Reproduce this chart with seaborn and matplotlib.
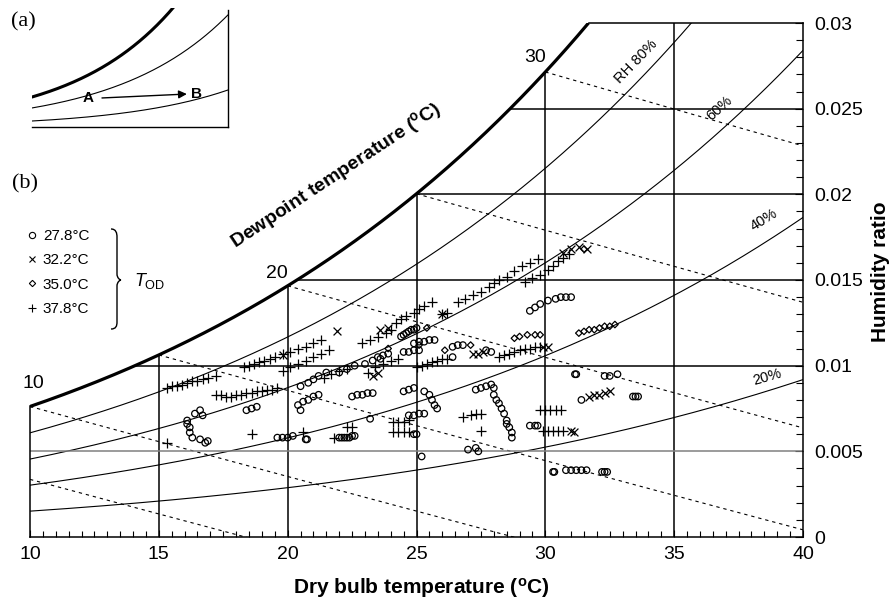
import numpy as np
import pandas as pd
import matplotlib
matplotlib.use("Agg")
import matplotlib.pyplot as plt
import seaborn as sns
from matplotlib.ticker import MultipleLocator
from matplotlib.lines import Line2D
from matplotlib.path import Path
from matplotlib.patches import PathPatch

sns.set_theme(style="white", rc={"axes.edgecolor": "black", "text.color": "black",
                                 "xtick.color": "black", "ytick.color": "black",
                                 "axes.labelcolor": "black"})
plt.rcParams["font.family"] = ["Liberation Sans", "DejaVu Sans"]
plt.rcParams["mathtext.fontset"] = "custom"
plt.rcParams["mathtext.rm"] = "Liberation Sans"
plt.rcParams["mathtext.it"] = "Liberation Sans:italic"
plt.rcParams["mathtext.bf"] = "Liberation Sans:bold"

# ---------------- data ----------------
series_labels = ["27.8°C", "32.2°C", "35.0°C", "37.8°C"]

t278 = [16.6, 16.7, 16.1, 16.2, 16.2, 16.3, 16.6, 16.8, 16.4, 16.1, 16.9,
        18.4, 18.6, 18.8,
        19.6, 19.8, 20.0, 20.2,
        20.7, 20.75,
        20.4, 20.6, 20.8, 21.0, 21.2, 20.5,
        22.0, 22.1, 22.2, 22.3, 22.4, 22.5, 22.6,
        23.2,
        22.5, 22.7, 22.9, 23.1, 23.3,
        20.5, 20.8, 21.0, 21.2, 21.5, 22.0, 22.3, 22.6, 23.0, 23.3, 23.6,
        24.4, 24.5, 24.6, 24.7, 24.8, 24.9, 25.0,
        24.9, 25.1, 25.3, 25.5, 25.7,
        24.5, 24.7, 24.9, 25.1, 23.5, 23.7, 23.9,
        26.4, 26.6, 26.8, 27.7, 27.9, 26.4,
        27.3, 27.5, 27.7, 27.9, 28.0,
        28.0, 28.1, 28.2, 28.3, 28.4, 28.5, 28.5, 28.6, 28.7, 28.7,
        25.3, 25.5, 25.6, 25.7, 25.8,
        24.7, 24.9, 25.1, 25.3, 24.9, 25.0,
        24.5, 24.7, 24.9,
        29.4, 29.6, 29.7,
        29.4, 29.6, 29.8, 30.1, 30.4, 30.6, 30.8, 31.0,
        31.15, 31.2, 32.3, 32.5, 32.8, 31.4, 33.4, 33.5, 33.6,
        25.2, 27.0, 27.3, 27.4,
        30.3, 30.35, 30.8, 31.0, 31.2, 31.4, 31.6, 32.2, 32.3, 32.4]
w278 = [.0074, .0071, .0068, .0064, .0061, .0058, .0057, .0055, .0072, .0066, .0056,
        .0074, .0075, .0076,
        .0058, .0058, .0058, .0059,
        .0057, .0057,
        .0077, .0079, .0080, .0082, .0083, .0074,
        .0058, .0058, .0058, .0058, .0058, .0059, .0059,
        .0069,
        .0082, .0083, .0083, .0084, .0084,
        .0088, .0090, .0092, .0094, .0096, .0096, .0098, .0100, .0101, .0103, .0104,
        .0117, .0118, .0119, .0120, .0121, .0121, .0122,
        .0113, .0114, .0114, .0115, .0115,
        .0108, .0108, .0109, .0109, .0105, .0106, .0107,
        .0111, .0112, .0112, .0109, .0108, .0105,
        .0086, .0087, .0088, .0089, .0087,
        .0083, .0080, .0078, .0075, .0072, .0068, .0066, .0064, .0061, .0058,
        .0085, .0083, .0080, .0077, .0075,
        .0071, .0071, .0072, .0072, .0060, .0060,
        .0085, .0086, .0087,
        .0065, .0065, .0065,
        .0132, .0134, .0136, .0138, .0139, .0140, .0140, .0140,
        .0095, .0095, .0094, .0094, .0095, .0080, .0082, .0082, .0082,
        .0047, .0051, .0052, .0050,
        .0038, .0038, .0039, .0039, .0039, .0039, .0039, .0038, .0038, .0038]

t322 = [21.9, 27.2, 27.4, 27.6, 31.7, 31.9, 32.1, 32.3, 32.5, 31.0, 31.1,
        30.7, 31.0, 31.3, 31.6, 23.3, 23.5, 23.6, 23.9, 19.8, 26.0, 29.9, 30.1]
w322 = [.0120, .0107, .0107, .0108, .0082, .0083, .0083, .0084, .0085, .0062, .0061,
        .0166, .0168, .0169, .0168, .0094, .0096, .0121, .0122, .0106, .0130, .0111, .0111]

t350 = [25.4, 26.1, 27.1, 28.8, 29.0, 29.3, 29.6, 29.8,
        31.3, 31.5, 31.7, 31.9, 32.1, 32.3, 32.5, 32.7, 31.5, 25.1, 23.9]
w350 = [.0122, .0109, .0112, .0116, .0117, .0118, .0118, .0118,
        .0119, .0120, .0121, .0121, .0122, .0123, .0123, .0124, .0168, .0112, .0110]

t378 = [15.3, 15.5, 15.7, 15.9, 16.1, 16.3, 16.5, 16.7, 16.9, 17.2,
        17.2, 17.4, 17.6, 17.8, 18.0, 18.2, 18.4, 18.6, 18.8, 19.0, 19.2, 19.4, 19.6,
        18.3, 18.5, 18.7, 18.9, 19.1, 19.3, 19.5, 19.8, 20.1, 20.4, 20.7, 21.0, 21.3,
        19.8, 20.1, 20.4, 20.7, 21.0, 21.3, 21.6,
        22.9, 23.2, 23.5, 23.8, 24.0,
        24.2, 24.4, 24.6, 24.9, 25.1, 25.3, 25.6, 26.0, 26.2,
        26.6, 26.9, 27.2, 27.5, 27.8, 28.0,
        28.2, 28.5, 28.8, 29.1, 29.4, 29.7, 29.2, 29.5, 29.8,
        30.1, 30.3, 30.5, 30.7, 30.9,
        15.3, 18.6, 20.6, 21.8, 22.3, 22.5,
        24.1, 24.3, 24.5, 24.7, 24.1, 24.3, 24.5, 24.7,
        26.8, 27.1, 27.3, 27.5, 27.5,
        29.8, 30.0, 30.2, 30.4, 30.6, 29.9, 30.1, 30.3, 30.5, 30.7,
        28.2, 28.4, 28.6, 28.8, 29.0, 29.2, 29.4, 29.6, 29.8,
        25.0, 25.2, 25.4, 25.6, 25.8, 26.0, 26.2,
        21.4, 21.7, 22.0, 22.3, 23.1, 23.4, 23.7, 24.0, 24.3]
w378 = [.0087, .0088, .0088, .0089, .0090, .0091, .0091, .0092, .0093, .0094,
        .0083, .0083, .0082, .0082, .0083, .0083, .0084, .0084, .0085, .0085, .0086, .0086, .0087,
        .0099, .0100, .0101, .0102, .0103, .0104, .0105, .0107, .0108, .0110, .0111, .0113, .0115,
        .0097, .0099, .0101, .0103, .0105, .0107, .0109,
        .0113, .0115, .0117, .0119, .0121,
        .0125, .0127, .0129, .0131, .0133, .0135, .0137, .0130, .0131,
        .0137, .0139, .0141, .0143, .0146, .0148,
        .0150, .0152, .0155, .0158, .0160, .0162, .0149, .0151, .0153,
        .0156, .0158, .0161, .0163, .0165,
        .0055, .0060, .0061, .0058, .0064, .0064,
        .0067, .0067, .0067, .0068, .0061, .0061, .0061, .0061,
        .0070, .0071, .0072, .0072, .0062,
        .0074, .0074, .0074, .0074, .0074, .0062, .0062, .0062, .0062, .0062,
        .0105, .0106, .0107, .0108, .0109, .0110, .0110, .0111, .0111,
        .0099, .0100, .0101, .0102, .0103, .0104, .0104,
        .0093, .0095, .0097, .0098, .0096, .0099, .0101, .0103, .0104]

rh_levels = [0.2, 0.4, 0.6, 0.8]
wetbulb_levels = [5, 10, 15, 20, 25, 30]
x_ticks = [10, 15, 20, 25, 30, 35, 40]
y_ticks = [0, 0.005, 0.01, 0.015, 0.02, 0.025, 0.03]
y_ticklabels = ["0", "0.005", "0.01", "0.015", "0.02", "0.025", "0.03"]

# ---------------- psychrometrics ----------------
P = 101.325
def pws(T):
    return 0.61094 * np.exp(17.625 * T / (T + 243.04))
def wsat(T, rh=1.0):
    p = rh * pws(T)
    return 0.62198 * p / (P - p)
def tsat(W):
    Ts = np.linspace(0, 50, 5001)
    return float(np.interp(W, wsat(Ts), Ts))
def wwb(T, Twb):
    return ((2501 - 2.326 * Twb) * wsat(Twb) - 1.006 * (T - Twb)) / (2501 + 1.86 * T - 4.186 * Twb)

W, H = 893, 600
fig = plt.figure(figsize=(W / 100, H / 100), dpi=100)
ax = fig.add_axes([30 / W, 63 / H, 773 / W, 514 / H])
ax.set_facecolor("none")
ax.set_xlim(10, 40)
ax.set_ylim(0, 0.03)

for s in ["left", "right", "top", "bottom"]:
    ax.spines[s].set_linewidth(1.1)
    ax.spines[s].set_color("black")
ax.spines["left"].set_bounds(0, wsat(10))
ax.spines["top"].set_bounds(tsat(0.03), 40)

lw_grid = 1.1
Tc = np.linspace(10, 40, 400)
Tsc = np.linspace(10, tsat(0.03), 300)
ax.plot(Tsc, wsat(Tsc), color="black", lw=2.3, solid_capstyle="butt", zorder=3)
for rh in rh_levels:
    ax.plot(Tc, wsat(Tc, rh), color="black", lw=0.8, zorder=2)
for twb in wetbulb_levels:
    Tw = np.linspace(max(twb, 10), 40, 300)
    ax.plot(Tw, wwb(Tw, twb), color="black", lw=0.8, ls=(0, (3, 3.5)), zorder=2)
for t in [15, 20, 25, 30, 35]:
    ax.plot([t, t], [0, min(wsat(t), 0.03)], color="black", lw=lw_grid, zorder=2)
for w in [0.01, 0.015, 0.02, 0.025]:
    ax.plot([tsat(w), 40], [w, w], color="black", lw=lw_grid, zorder=2)
ax.plot([10, 40], [0.005, 0.005], color="#808080", lw=lw_grid, zorder=2)

# ---------------- data points ----------------
def scat(t, w, marker, s, open_face, lw=0.9):
    df = pd.DataFrame({"T": t, "W": w})
    sns.scatterplot(data=df, x="T", y="W", ax=ax, marker=marker, s=s, color="black",
                    edgecolor="black", linewidth=lw, legend=False, zorder=5)
    if open_face:
        coll = ax.collections[-1]
        coll.set_facecolor("none")
        coll.set_edgecolor("black")

scat(t278, w278, "o", 22, True)
scat(t322, w322, "x", 32, False)
scat(t350, w350, "D", 11, True)
scat(t378, w378, "+", 45, False)

ax.set_xlabel("")
ax.set_ylabel("")

ax.set_xticks(x_ticks)
ax.set_xticklabels([str(v) for v in x_ticks])
ax.xaxis.set_minor_locator(MultipleLocator(0.5))
ax.yaxis.tick_right()
ax.set_yticks(y_ticks)
ax.set_yticklabels(y_ticklabels)
ax.yaxis.set_minor_locator(MultipleLocator(0.001))
ax.tick_params(axis="x", which="both", direction="in", bottom=True, top=False,
               labelsize=14, pad=6.5, width=0.8)
ax.tick_params(axis="x", which="major", length=5)
ax.tick_params(axis="x", which="minor", length=4)
ax.tick_params(axis="y", which="both", direction="in", left=False, right=True,
               labelleft=False, labelright=True, labelsize=14, pad=8, width=0.8)
ax.tick_params(axis="y", which="major", length=6)
ax.tick_params(axis="y", which="minor", length=5)

ax.text(33.52, 0.02772, "RH 80%", fontsize=10.5, rotation=46, ha="center", va="center",
        rotation_mode="anchor", zorder=6)
ax.text(36.75, 0.02500, "60%", fontsize=10.5, rotation=42, ha="center", va="center",
        rotation_mode="anchor", zorder=6)
ax.text(38.5, 0.01850, "40%", fontsize=10.5, rotation=32, ha="center", va="center",
        rotation_mode="anchor", zorder=6)
ax.text(38.6, 0.00935, "20%", fontsize=10.5, rotation=16, ha="center", va="center",
        rotation_mode="anchor", zorder=6)

# ---------------- overlay in pixel coordinates ----------------
ov = fig.add_axes([0, 0, 1, 1], zorder=10)
ov.set_xlim(0, W)
ov.set_ylim(H, 0)
ov.axis("off")
ov.patch.set_alpha(0)

ov.text(421, 588, "Dry bulb temperature ($^{\\mathbf{o}}$C)", fontsize=15, fontweight="bold",
        ha="center", va="center")
ov.text(880, 272, "Humidity ratio", fontsize=15, fontweight="bold", rotation=90,
        ha="center", va="center")
ov.text(336, 175, "Dewpoint temperature ($^{\\mathbf{o}}$C)", fontsize=14, fontweight="bold",
        rotation=33.5, ha="center", va="center", rotation_mode="anchor")
ov.text(33, 384, "10", fontsize=14, ha="center", va="center")
ov.text(277, 273, "20", fontsize=14, ha="center", va="center")
ov.text(535, 57, "30", fontsize=14, ha="center", va="center")
ov.text(23, 22, "(a)", fontsize=16, family="Liberation Serif", ha="center", va="center")
ov.text(25, 184, "(b)", fontsize=16, family="Liberation Serif", ha="center", va="center")

handles = [Line2D([], [], ls="", marker="o", ms=4.5, mfc="none", mec="black", mew=0.8),
           Line2D([], [], ls="", marker="x", ms=5, color="black", mew=0.8),
           Line2D([], [], ls="", marker="D", ms=3.2, mfc="none", mec="black", mew=0.8),
           Line2D([], [], ls="", marker="+", ms=5.5, color="black", mew=0.8)]
fig.legend(handles, series_labels, loc="upper left", bbox_to_anchor=(26 / W, 1 - 229 / H),
           frameon=False, fontsize=11, handlelength=0.8, handletextpad=0.3,
           labelspacing=0.68, borderpad=0, borderaxespad=0)

verts = [(111, 229), (116, 229), (117, 233), (117, 237),
         (117, 274), (117, 278), (120, 280), (121, 280),
         (120, 280), (117, 282), (117, 286),
         (117, 322), (117, 326), (116, 329), (111, 329)]
codes = [Path.MOVETO, Path.CURVE4, Path.CURVE4, Path.CURVE4,
         Path.LINETO, Path.CURVE4, Path.CURVE4, Path.CURVE4,
         Path.CURVE4, Path.CURVE4, Path.CURVE4,
         Path.LINETO, Path.CURVE4, Path.CURVE4, Path.CURVE4]
ov.add_patch(PathPatch(Path(verts, codes), fill=False, lw=1.0, edgecolor="black"))
ov.text(134, 281, "$T_{\\mathrm{OD}}$", fontsize=13, ha="left", va="center")

# ---------------- inset (a) ----------------
ai = fig.add_axes([32 / W, 1 - 127 / H, 196 / W, 119 / H])
ai.set_facecolor("none")
ai.set_xlim(0, 1)
ai.set_ylim(0, 1)
for s in ["left", "top"]:
    ai.spines[s].set_visible(False)
for s in ["right", "bottom"]:
    ai.spines[s].set_color("black")
    ai.spines[s].set_linewidth(1.0)
ai.spines["right"].set_bounds(0, 0.98)
ai.set_xticks([])
ai.set_yticks([])
xi = np.linspace(0, 1, 200)
ai.plot(xi, 0.252 * np.exp(1.917 * xi), color="black", lw=2.2)
ai.plot(xi, 0.160 * np.exp(1.773 * xi), color="black", lw=0.8)
ai.plot(xi, 0.0504 * np.exp(1.82 * xi), color="black", lw=0.8)
ai.annotate("", xy=(0.79, 0.277), xytext=(0.357, 0.244),
            arrowprops=dict(arrowstyle="-|>", color="black", lw=1.0, mutation_scale=12,
                            shrinkA=0, shrinkB=0))
ai.text(0.286, 0.244, "A", fontsize=11, fontweight="bold", ha="center", va="center")
ai.text(0.84, 0.277, "B", fontsize=11, fontweight="bold", ha="center", va="center")

fig.savefig("out.png", dpi=100)
